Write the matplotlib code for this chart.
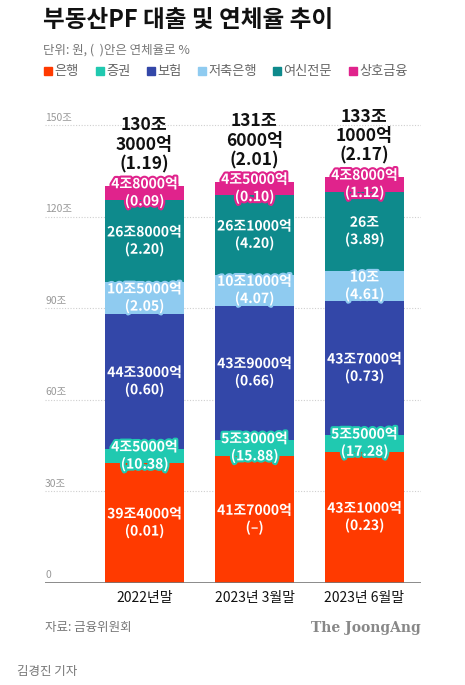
import matplotlib
matplotlib.use("Agg")
import matplotlib.pyplot as plt
import matplotlib.patheffects as pe
from matplotlib.patches import Rectangle

plt.rcParams['font.family'] = ['Noto Sans CJK KR', 'DejaVu Sans']

# data (단위: 조원), 괄호 안은 연체율(%)
periods = ["2022년말", "2023년 3월말", "2023년 6월말"]
sectors = ["은행", "증권", "보험", "저축은행", "여신전문", "상호금융"]
colors = ["#FF3A00", "#20C9B0", "#3347A8", "#8FCBF0", "#0E8A8C", "#E0238C"]

amounts = [
    [39.4, 41.7, 43.1],   # 은행
    [4.5, 5.3, 5.5],      # 증권
    [44.3, 43.9, 43.7],   # 보험
    [10.5, 10.1, 10.0],   # 저축은행
    [26.8, 26.1, 26.0],   # 여신전문
    [4.8, 4.5, 4.8],      # 상호금융
]
amount_labels = [
    ["39조4000억", "41조7000억", "43조1000억"],
    ["4조5000억", "5조3000억", "5조5000억"],
    ["44조3000억", "43조9000억", "43조7000억"],
    ["10조5000억", "10조1000억", "10조"],
    ["26조8000억", "26조1000억", "26조"],
    ["4조8000억", "4조5000억", "4조8000억"],
]
rates = [
    ["0.01", "–", "0.23"],
    ["10.38", "15.88", "17.28"],
    ["0.60", "0.66", "0.73"],
    ["2.05", "4.07", "4.61"],
    ["2.20", "4.20", "3.89"],
    ["0.09", "0.10", "1.12"],
]
total_labels = ["130조\n3000억", "131조\n6000억", "133조\n1000억"]
total_rates = ["1.19", "2.01", "2.17"]
yticks = [0, 30, 60, 90, 120, 150]

W, H = 465, 685
fig = plt.figure(figsize=(W / 100, H / 100), dpi=100)
fig.patch.set_facecolor("white")

# axes: x 45..421 px, y zero at 583 px, top at 110 px
ax = fig.add_axes([45 / W, (H - 583) / H, 376 / W, 473 / H])
ax.set_xlim(-0.9045, 2.514)
ax.set_ylim(0, 155.08)
for s in ax.spines.values():
    s.set_visible(False)
ax.set_xticks([])
ax.set_yticks([])

for t in yticks[1:]:
    ax.axhline(t, color="#cfcfcf", lw=0.8, ls=(0, (1, 1.5)), zorder=0)
ax.axhline(0, color="#777777", lw=1.2, zorder=3)
for t in yticks:
    lab = "0" if t == 0 else f"{t}조"
    ax.annotate(lab, (0, t), xycoords=("axes fraction", "data"),
                xytext=(0, 2), textcoords="offset points",
                ha="left", va="bottom", fontsize=7.5, color="#999999")

x = range(len(periods))
bottoms = [0, 0, 0]
for i, sec in enumerate(sectors):
    ax.bar(x, amounts[i], bottom=bottoms, width=0.718, color=colors[i], zorder=2)
    for j in x:
        mid = bottoms[j] + amounts[i][j] / 2
        ax.text(j, mid, f"{amount_labels[i][j]}\n({rates[i][j]})",
                ha="center", va="center", fontsize=10, fontweight="bold",
                color="white", linespacing=1.25, zorder=4,
                path_effects=[pe.withStroke(linewidth=3, foreground=colors[i])])
    bottoms = [bottoms[k] + amounts[i][k] for k in range(len(bottoms))]

for j in x:
    ax.annotate(f"{total_labels[j]}\n({total_rates[j]})", (j, bottoms[j]),
                xytext=(0, 9), textcoords="offset points",
                ha="center", va="bottom", fontsize=12.5, fontweight="bold",
                color="#111111", linespacing=1.1)
    ax.annotate(periods[j], (j, 0), xytext=(0, -6), textcoords="offset points",
                ha="center", va="top", fontsize=10, color="#111111")

# title / subtitle
fig.text(43 / W, 1 - 20 / H, "부동산PF 대출 및 연체율 추이", fontsize=17,
         fontweight="bold", color="#111111", ha="left", va="center")
fig.text(43 / W, 1 - 50 / H, "단위: 원, (  )안은 연체율로 %", fontsize=9,
         color="#777777", ha="left", va="center")

# legend
leg_x = [44, 96, 147, 198, 273, 349]
for i, sec in enumerate(sectors):
    fig.patches.append(Rectangle((leg_x[i] / W, 1 - 75 / H), 8 / W, 8 / H,
                                 transform=fig.transFigure, color=colors[i]))
    fig.text((leg_x[i] + 10) / W, 1 - 71 / H, sec, fontsize=9.5,
             color="#666666", ha="left", va="center")

# footer
fig.text(45 / W, 1 - 627 / H, "자료: 금융위원회", fontsize=9,
         color="#777777", ha="left", va="center")
fig.text(421 / W, 1 - 628 / H, "The JoongAng", fontsize=10,
         family="DejaVu Serif", fontweight="bold", color="#888888",
         ha="right", va="center")
fig.text(17 / W, 1 - 672 / H, "김경진 기자", fontsize=9,
         color="#777777", ha="left", va="center")

fig.savefig("out.png", dpi=100, facecolor="white")
